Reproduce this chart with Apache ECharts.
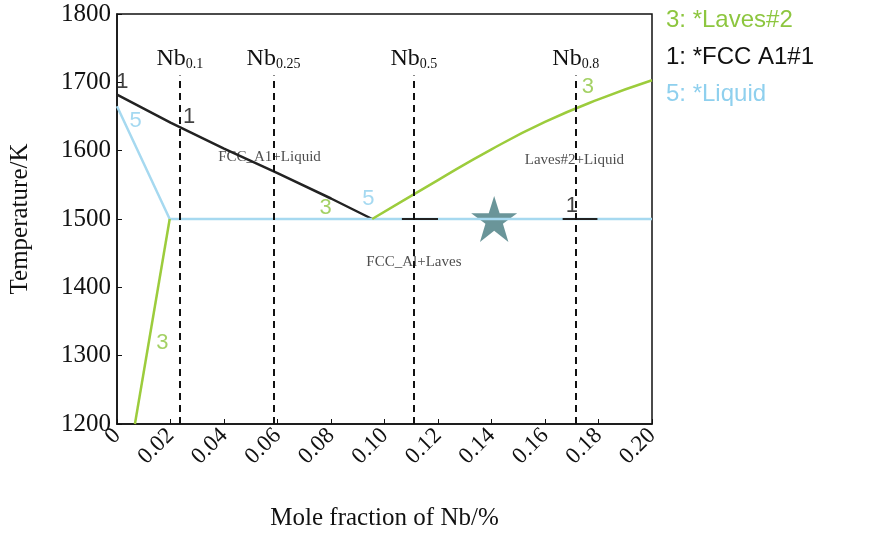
<!DOCTYPE html>
<html><head><meta charset="utf-8">
<script src="https://cdn.jsdelivr.net/npm/echarts@6/dist/echarts.min.js"></script>
<style>html,body{margin:0;background:#fff}#c{width:894px;height:536px}</style></head>
<body><div id="c"></div>
<script>
var fccLiquidus = [[0,1682],[0.02,1641],[0.04,1603],[0.06,1567],[0.08,1530],[0.0954,1500]];
var liquidLine = [[0,1665],[0.0197,1500],[0.20,1500]];
var lavesSolvus = [[0.0067,1200],[0.0197,1500]];
var lavesLiquidus = [[0.0954,1500],[0.12,1557],[0.14,1602],[0.16,1642],[0.18,1675],[0.20,1703]];
var compositions = [0.0235,0.0585,0.111,0.1715];
var compLabels = ['0.1','0.25','0.5','0.8'];
var tie1 = [[0.1065,1500],[0.120,1500]];
var tie2 = [[0.1666,1500],[0.1796,1500]];
var star = [[0.141,1500]];
var regionLabels = [['FCC_A1+Liquid',0.057,1590],['Laves#2+Liquid',0.171,1586],['FCC_Al+Laves',0.111,1437]];
var curveMarks = [['1',0.002,1700,'#111'],['1',0.027,1650,'#111'],['5',0.007,1644,'#8fd0ee'],['3',0.017,1318,'#8dc63f'],['3',0.078,1516,'#8dc63f'],['5',0.094,1530,'#8fd0ee'],['3',0.176,1693,'#8dc63f'],['1',0.170,1519,'#111']];
var legendItems = [['3: *Laves#2','#8dc63f'],['1: *FCC A1#1','#111'],['5: *Liquid','#8fd0ee']];
var GREEN='#9ccc3c', BLUE='#a6d9f0', BLACK='#222';
var chart = echarts.init(document.getElementById('c'));
var serif='Liberation Serif';
var series = [
 {type:'line',data:fccLiquidus,showSymbol:false,lineStyle:{color:BLACK,width:2.5}},
 {type:'line',data:liquidLine,showSymbol:false,lineStyle:{color:BLUE,width:2.5}},
 {type:'line',data:lavesSolvus,showSymbol:false,lineStyle:{color:GREEN,width:2.5}},
 {type:'line',data:lavesLiquidus,smooth:true,showSymbol:false,lineStyle:{color:GREEN,width:2.5}},
 {type:'line',data:tie1,showSymbol:false,lineStyle:{color:BLACK,width:2}},
 {type:'line',data:tie2,showSymbol:false,lineStyle:{color:BLACK,width:2}},
 {type:'scatter',data:star,symbol:'path://M50 0L61.8 35.5L100 35.5L69 57.5L80.9 95L50 72L19.1 95L31 57.5L0 35.5L38.2 35.5Z',symbolSize:46,itemStyle:{color:'#457a80'}},
 {type:'line',data:[],markLine:{silent:true,symbol:'none',lineStyle:{type:[7,5],color:'#111',width:2},
   label:{show:true,position:'end',distance:4,fontFamily:serif,fontSize:24,color:'#111',
     formatter:function(p){return 'Nb{s|'+compLabels[p.dataIndex]+'}';},rich:{s:{fontSize:14,fontFamily:serif,verticalAlign:'bottom',padding:[12,0,0,0]}}},
   data:compositions.map(function(c){return [{coord:[c,1200]},{coord:[c,1710]}];})}},
 {type:'scatter',data:regionLabels.map(function(r){return {value:[r[1],r[2]],name:r[0]};}),symbolSize:0,
   label:{show:true,position:'inside',formatter:'{b}',fontFamily:serif,fontSize:15,color:'#222'}},
 {type:'scatter',data:curveMarks.map(function(r){return {value:[r[1],r[2]],name:r[0],label:{color:r[3]}};}),symbolSize:0,
   label:{show:true,position:'inside',formatter:'{b}',fontFamily:'Liberation Sans',fontSize:22}}
];
chart.setOption({
 animation:false,
 grid:{left:113,right:242,top:14,bottom:100,show:true,borderColor:'#111',borderWidth:1.5},
 xAxis:{type:'value',min:0,max:0.2,interval:0.02,name:'Mole fraction of Nb/%',nameLocation:'middle',nameGap:82,
   nameTextStyle:{fontFamily:serif,fontSize:25,color:'#111'},
   axisLine:{lineStyle:{color:'#111',width:1.5}},axisTick:{inside:true,lineStyle:{color:'#111'}},splitLine:{show:false},
   axisLabel:{rotate:45,fontFamily:serif,fontSize:23,color:'#111',margin:8,formatter:function(v){return v===0?'0':v.toFixed(2);}}},
 yAxis:{type:'value',min:1200,max:1800,interval:100,name:'Temperature/K',nameLocation:'middle',nameGap:84,
   nameTextStyle:{fontFamily:serif,fontSize:25,color:'#111'},
   axisLine:{lineStyle:{color:'#111',width:1.5}},axisTick:{inside:true,lineStyle:{color:'#111'}},splitLine:{show:false},
   axisLabel:{fontFamily:serif,fontSize:25,color:'#111',margin:6,formatter:function(v){return String(v);}}},
 graphic:legendItems.map(function(l,i){return {type:'text',left:666,top:8+i*37,style:{text:l[0],fill:l[1],font:'24px "Liberation Sans"'}};}),
 series:series
});
</script></body></html>
